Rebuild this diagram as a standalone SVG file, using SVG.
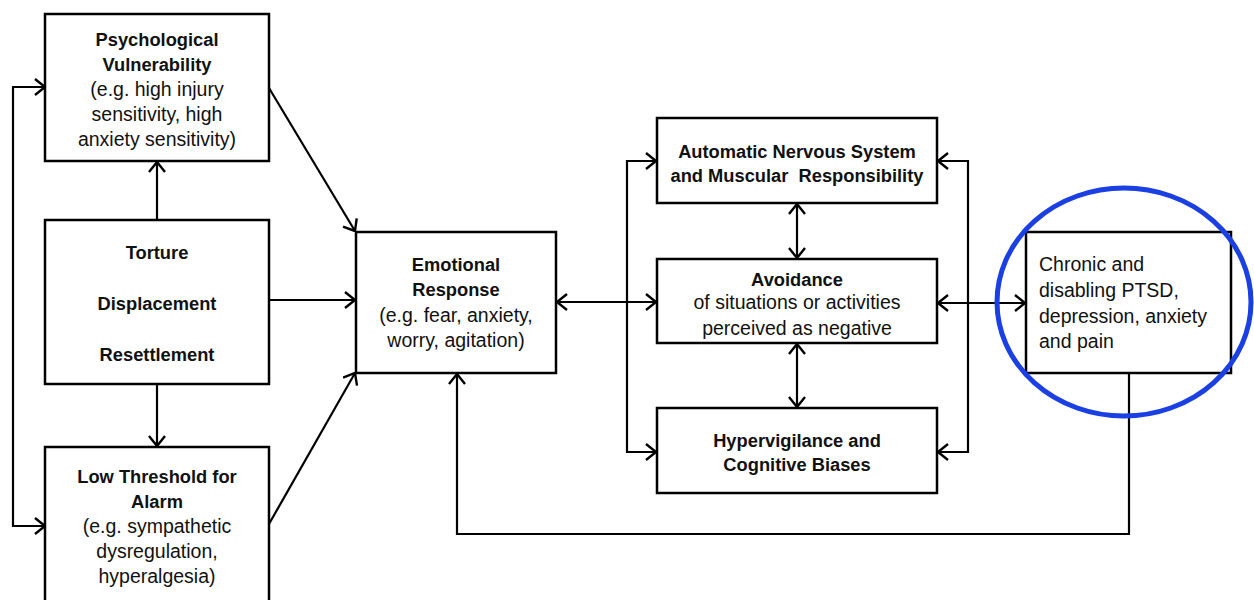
<svg xmlns="http://www.w3.org/2000/svg" width="1254" height="600" viewBox="0 0 1254 600">
<style>
.box{fill:#fff;stroke:#000;stroke-width:2.5}
.t{font-family:"Liberation Sans",Arial,sans-serif;font-size:19.5px;fill:#111;text-anchor:middle}
.b{font-weight:bold;font-size:18.3px}
.l{text-anchor:start}
.c{fill:none;stroke:#000;stroke-width:2.2}
</style>
<defs>
<marker id="ah" viewBox="0 0 12 18" refX="11" refY="9" markerWidth="12" markerHeight="18" markerUnits="userSpaceOnUse" orient="auto-start-reverse">
<path d="M1,1 L11,9 L1,17" fill="none" stroke="#000" stroke-width="2.4"/>
</marker>
</defs>
<rect width="1254" height="600" fill="#fff"/>
<g id="connectors">
<path class="c" d="M45,87 L13,87 L13,526 L45,526" marker-start="url(#ah)" marker-end="url(#ah)"/>
<line class="c" x1="157" y1="220" x2="157" y2="162" marker-end="url(#ah)"/>
<line class="c" x1="157" y1="384" x2="157" y2="446" marker-end="url(#ah)"/>
<line class="c" x1="269" y1="88" x2="355" y2="231" marker-end="url(#ah)"/>
<line class="c" x1="269" y1="300" x2="355" y2="300" marker-end="url(#ah)"/>
<line class="c" x1="269" y1="524" x2="355" y2="373" marker-end="url(#ah)"/>
<line class="c" x1="557" y1="302" x2="656" y2="302" marker-start="url(#ah)" marker-end="url(#ah)"/>
<path class="c" d="M656,161 L627,161 L627,452 L656,452" marker-start="url(#ah)" marker-end="url(#ah)"/>
<path class="c" d="M938,161 L968,161 L968,452 L938,452" marker-start="url(#ah)" marker-end="url(#ah)"/>
<line class="c" x1="797" y1="204" x2="797" y2="258" marker-start="url(#ah)" marker-end="url(#ah)"/>
<line class="c" x1="797" y1="344" x2="797" y2="407" marker-start="url(#ah)" marker-end="url(#ah)"/>
<line class="c" x1="938" y1="303" x2="1025" y2="303" marker-start="url(#ah)" marker-end="url(#ah)"/>
<path class="c" d="M1129,373 L1129,534 L457,534 L457,374" marker-end="url(#ah)"/>
</g>
<g id="psych">
<rect class="box" x="45" y="14" width="224" height="147"/>
<text class="t b" x="157" y="46">Psychological</text>
<text class="t b" x="157" y="71">Vulnerability</text>
<text class="t" x="157" y="96">(e.g. high injury</text>
<text class="t" x="157" y="121">sensitivity, high</text>
<text class="t" x="157" y="146">anxiety sensitivity)</text>
</g>
<g id="torture">
<rect class="box" x="45" y="220" width="224" height="164"/>
<text class="t b" x="157" y="259">Torture</text>
<text class="t b" x="157" y="310">Displacement</text>
<text class="t b" x="157" y="361">Resettlement</text>
</g>
<g id="lowthreshold">
<rect class="box" x="45" y="447" width="224" height="160"/>
<text class="t b" x="157" y="483">Low Threshold for</text>
<text class="t b" x="157" y="508">Alarm</text>
<text class="t" x="157" y="533">(e.g. sympathetic</text>
<text class="t" x="157" y="558">dysregulation,</text>
<text class="t" x="157" y="583">hyperalgesia)</text>
</g>
<g id="emotional">
<rect class="box" x="356" y="232" width="200" height="141"/>
<text class="t b" x="456" y="271">Emotional</text>
<text class="t b" x="456" y="296">Response</text>
<text class="t" x="456" y="322">(e.g. fear, anxiety,</text>
<text class="t" x="456" y="347">worry, agitation)</text>
</g>
<g id="ans">
<rect class="box" x="657" y="118" width="280" height="85"/>
<text class="t b" x="797" y="158">Automatic Nervous System</text>
<text class="t b" x="797" y="182" style="white-space:pre">and Muscular  Responsibility</text>
</g>
<g id="avoidance">
<rect class="box" x="657" y="259" width="280" height="84"/>
<text class="t b" x="797" y="286">Avoidance</text>
<text class="t" x="797" y="309">of situations or activities</text>
<text class="t" x="797" y="335">perceived as negative</text>
</g>
<g id="hypervigilance">
<rect class="box" x="657" y="408" width="280" height="85"/>
<text class="t b" x="797" y="447">Hypervigilance and</text>
<text class="t b" x="797" y="471">Cognitive Biases</text>
</g>
<g id="chronic">
<rect class="box" x="1026" y="232" width="205" height="141"/>
<text class="t l" x="1039" y="271">Chronic and</text>
<text class="t l" x="1039" y="297">disabling PTSD,</text>
<text class="t l" x="1039" y="323">depression, anxiety</text>
<text class="t l" x="1039" y="348">and pain</text>
</g>
<ellipse id="highlight" cx="1124" cy="302" rx="127" ry="114" fill="none" stroke="#1a3fe3" stroke-width="5"/>
</svg>
